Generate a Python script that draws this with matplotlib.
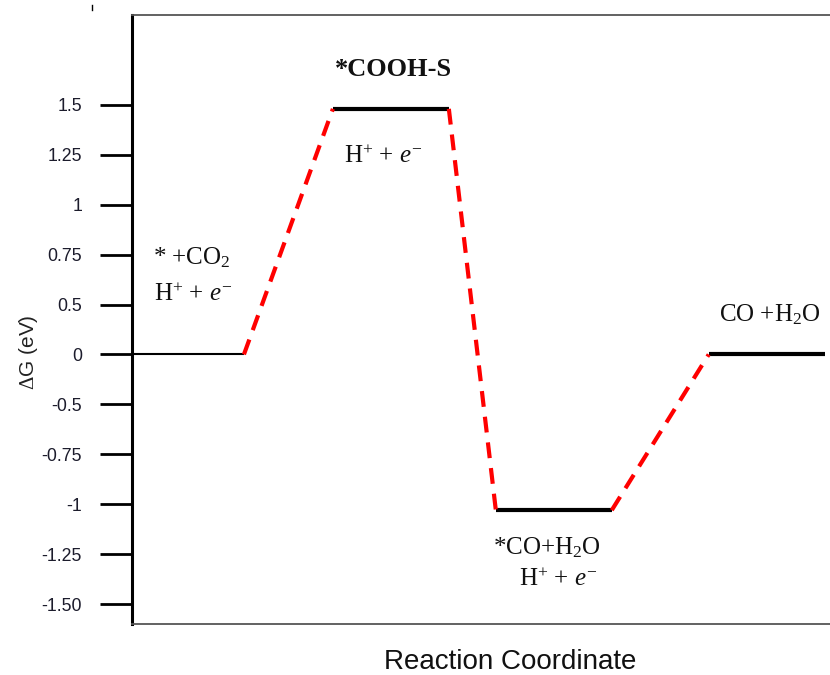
import numpy as np
import matplotlib
matplotlib.use('Agg')
import matplotlib.pyplot as plt
from matplotlib.lines import Line2D

plt.rcParams['mathtext.fontset'] = 'custom'
plt.rcParams['mathtext.rm'] = 'Liberation Serif'
plt.rcParams['mathtext.it'] = 'Liberation Serif:italic'
plt.rcParams['mathtext.bf'] = 'Liberation Serif:bold'

# energy levels along the reaction path
step_start = [0.0, 2.01, 3.64, 5.77]
step_end = [1.12, 3.17, 4.80, 6.93]
step_energy = [0.0, 1.48, -1.03, 0.0]
step_lw = [1.5, 3.0, 3.0, 3.0]

# y ticks are evenly spaced on the drawing, not by value
ytick_vals = [-1.5, -1.25, -1.0, -0.75, -0.5, 0.0, 0.5, 0.75, 1.0, 1.25, 1.5]
ytick_labels = ['-1.50', '-1.25', '-1', '-0.75', '-0.5', '0', '0.5', '0.75', '1', '1.25', '1.5']

ext_vals = [ytick_vals[0] - 10] + ytick_vals + [ytick_vals[-1] + 10]
ext_pos = [-40] + list(range(len(ytick_vals))) + [len(ytick_vals) - 1 + 40]


def fwd(v):
    return np.interp(v, ext_vals, ext_pos)


def inv(p):
    return np.interp(p, ext_pos, ext_vals)


W, H = 830, 675
fig = plt.figure(figsize=(W / 100, H / 100), dpi=100)
ax = fig.add_axes([132 / W, 1 - 624 / H, 1 - 132 / W + 0.002, (624 - 15) / H])
ax.set_yscale('function', functions=(fwd, inv))

for x0, x1, e, lw in zip(step_start, step_end, step_energy, step_lw):
    ax.plot([x0, x1], [e, e], color='black', lw=lw, solid_capstyle='butt')

for i in range(len(step_energy) - 1):
    ax.plot([step_end[i], step_start[i + 1]], [step_energy[i], step_energy[i + 1]],
            color='#ff0000', lw=3.0, dashes=(3.8, 2.4))

ax.set_xlim(0, (W - 132) / 100 + 0.02)
ax.set_ylim(-1.6, 1.95)
ax.set_yticks(ytick_vals)
ax.set_yticklabels(ytick_labels, fontsize=12.8, family='Liberation Sans', color='#1c1c2c')
ax.set_xticks([])
ax.tick_params(axis='y', direction='out', length=23, width=2, color='black', pad=13)

ax.spines['right'].set_visible(False)
ax.spines['left'].set_linewidth(2.2)
ax.spines['left'].set_color('black')
for s in ['top', 'bottom']:
    ax.spines[s].set_linewidth(1.3)
    ax.spines[s].set_color('#555555')


def px(x, y):
    return x / W, 1 - y / H


serif = dict(family='Liberation Serif', color='#111111', ha='center', va='center')
fig.text(*px(393, 69), '*COOH-S', fontsize=19, weight='bold', **serif)
fig.text(*px(383, 157), r'H$^{+}$ + $e^{-}$', fontsize=18, **serif)
fig.text(*px(192, 258), r'* +CO$_{2}$', fontsize=18, **serif)
fig.text(*px(193, 295), r'H$^{+}$ + $e^{-}$', fontsize=18, **serif)
fig.text(*px(547, 548), r'*CO+H$_{2}$O', fontsize=18, **serif)
fig.text(*px(558, 580), r'H$^{+}$ + $e^{-}$', fontsize=18, **serif)
fig.text(*px(770, 315), r'CO +H$_{2}$O', fontsize=18, **serif)

fig.text(*px(28, 352), r'$\Delta$G (eV)', rotation=90, fontsize=15,
         family='Liberation Sans', color='#222222', ha='center', va='center')
fig.text(*px(510, 662), 'Reaction Coordinate', fontsize=20,
         family='Liberation Sans', color='#111111', ha='center', va='center')

fig.add_artist(Line2D([92 / W, 92 / W], [1 - 5 / H, 1 - 10 / H], lw=1, color='black'))

fig.savefig('out.png', dpi=100)
